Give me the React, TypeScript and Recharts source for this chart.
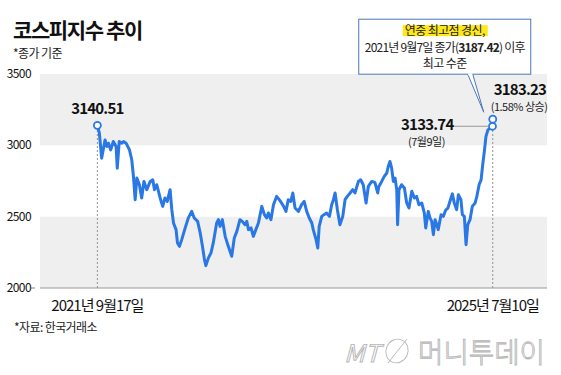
import React from "react";
import {
  LineChart,
  Line,
  XAxis,
  YAxis,
  ReferenceArea,
  ReferenceLine,
  ReferenceDot
} from "recharts";

// days since 2021-09-17
const days = [
  0, 7, 15, 27, 33, 39, 47, 56, 66, 70, 77, 86, 92, 101, 113, 121, 127, 133, 139, 148,
  156, 164, 174, 186, 195, 201, 209, 221, 230, 238, 246, 256, 262, 268, 277, 282, 289, 297, 309, 320,
  332, 341, 353, 362, 370, 377, 382, 391, 400, 408, 420, 426, 432, 440, 450, 461, 473, 482, 491, 502,
  510, 520, 526, 532, 541, 549, 558, 567, 579, 588, 596, 602, 611, 620, 631, 643, 655, 664, 672, 681,
  688, 696, 708, 719, 728, 737, 746, 755, 760, 770, 776, 781, 790, 798, 807, 817, 825, 831, 837, 845,
  854, 864, 872, 880, 890, 899, 907, 919, 927, 936, 946, 954, 966, 977, 987, 991, 1001, 1010, 1019, 1024,
  1030, 1036, 1042, 1048, 1054, 1057, 1062, 1071, 1081, 1089, 1097, 1107, 1116, 1124, 1132, 1142, 1151, 1156, 1165, 1171,
  1177, 1183, 1189, 1195, 1200, 1210, 1218, 1226, 1234, 1245, 1250, 1256, 1265, 1271, 1280, 1285, 1292, 1298, 1304, 1312,
  1320, 1330, 1336, 1344, 1351, 1356, 1363, 1368, 1375, 1383, 1391, 1392
];

const kospi = [
  3140.51, 3085, 2910, 3038, 2992, 3015, 2968, 3027, 2992, 2840, 3027, 3015, 3027, 3015, 2968, 2899, 2782, 2619, 2771, 2724,
  2631, 2747, 2689, 2747, 2759, 2689, 2724, 2631, 2572, 2631, 2607, 2689, 2549, 2456, 2409, 2316, 2292, 2339, 2420, 2490,
  2537, 2491, 2467, 2386, 2292, 2199, 2157, 2211, 2246, 2316, 2456, 2479, 2432, 2479, 2362, 2292, 2222, 2351, 2397, 2479,
  2467, 2444, 2467, 2409, 2421, 2362, 2409, 2456, 2572, 2514, 2491, 2526, 2479, 2584, 2642, 2612, 2575, 2537, 2619, 2607,
  2666, 2561, 2537, 2584, 2607, 2537, 2491, 2456, 2409, 2339, 2281, 2432, 2502, 2514, 2526, 2502, 2584, 2619, 2666, 2549,
  2444, 2502, 2619, 2642, 2666, 2689, 2666, 2747, 2759, 2724, 2596, 2712, 2747, 2740, 2666, 2712, 2747, 2782, 2806, 2852,
  2887, 2840, 2747, 2771, 2689, 2444, 2689, 2724, 2701, 2596, 2561, 2678, 2631, 2642, 2584, 2596, 2526, 2421, 2537, 2491,
  2467, 2374, 2479, 2444, 2409, 2514, 2502, 2545, 2560, 2631, 2660, 2600, 2549, 2654, 2619, 2514, 2502, 2304, 2444, 2479,
  2572, 2596, 2642, 2724, 2759, 2852, 2968, 3061, 3108, 3120, 3133.74, 3183.23
];

const yTicks = [2000, 2500, 3000, 3500];
const xTicks = [0, 1392];
const xTickLabels = ["2021년 9월17일", "2025년 7월10일"];

const data = days.map((d, i) => ({ d, v: kospi[i] }));

const BLUE = "#2a77e6";
const FONT = '"Noto Sans CJK KR", "Noto Sans", sans-serif';

const center = (vb: any) => ({ cx: vb.x + vb.width / 2, cy: vb.y + vb.height / 2 });

const startLabel = (props: any) => {
  const { cx, cy } = center(props.viewBox);
  return (
    <text x={cx} y={cy - 11} textAnchor="middle" fontSize={15} fontWeight="bold" fill="#111" letterSpacing={-0.8} fontFamily={FONT}>
      3140.51
    </text>
  );
};

const prevLabel = (props: any) => {
  const { cx, cy } = center(props.viewBox);
  return (
    <g fontFamily={FONT}>
      <line x1={cx - 38} y1={cy} x2={cx - 4} y2={cy} stroke="#999" strokeWidth={1.2} />
      <text x={cx - 39} y={cy + 4} textAnchor="end" fontSize={15} fontWeight="bold" fill="#111" letterSpacing={-0.8}>
        3133.74
      </text>
      <text x={cx - 66} y={cy + 20} textAnchor="middle" fontSize={11} fill="#222" letterSpacing={-0.5}>
        (7월9일)
      </text>
    </g>
  );
};

const lastLabel = (props: any) => {
  const { cx, cy } = center(props.viewBox);
  const bx = cx - 134;
  const by = cy - 100;
  return (
    <g fontFamily={FONT}>
      <text x={cx + 1} y={cy - 24} fontSize={15} fontWeight="bold" fill="#111" letterSpacing={-0.8}>
        3183.23
      </text>
      <text x={cx - 2} y={cy - 8} fontSize={11} fill="#222" letterSpacing={-0.5}>
        (1.58% 상승)
      </text>
      <rect x={bx} y={by} width={172} height={55} fill="#fff" stroke="#4a78b8" strokeWidth={1} />
      <path
        d={`M ${cx - 25} ${by + 55} L ${cx - 9} ${cy - 7} L ${cx - 20} ${by + 55}`}
        fill="#fff"
        stroke="#4a78b8"
        strokeWidth={1}
      />
      <rect x={cx - 24.5} y={by + 54} width={4} height={2} fill="#fff" />
      <rect x={bx + 44} y={by + 6} width={85} height={11} fill="#ffe81a" />
      <text x={bx + 86} y={by + 15.5} textAnchor="middle" fontSize={12} fill="#222" letterSpacing={-0.6}>
        연중 최고점 경신,
      </text>
      <text x={bx + 86} y={by + 33} textAnchor="middle" fontSize={12} fill="#222" letterSpacing={-0.8}>
        2021년 9월7일 종가(<tspan fontWeight="bold">3187.42</tspan>) 이후
      </text>
      <text x={bx + 86} y={by + 49} textAnchor="middle" fontSize={12} fill="#222" letterSpacing={-0.6}>
        최고 수준
      </text>
    </g>
  );
};

const YTick = (props: any) => {
  const { x, y, payload } = props;
  return (
    <g>
      {payload.value === 2000 && <line x1={x - 1} y1={y} x2={x + 3} y2={y} stroke="#999" strokeWidth={1.2} />}
      <text x={x - 1} y={y + 4} textAnchor="end" fontSize={12} fill="#111" letterSpacing={-0.6} fontFamily={FONT}>
        {payload.value}
      </text>
    </g>
  );
};

export default function App() {
  return (
    <div style={{ position: "absolute", left: 0, top: 0, width: 561, height: 375, background: "#fff" }}>
      <LineChart width={561} height={375} data={data} margin={{ top: 74, right: 14, bottom: 57, left: 0 }}>
        <ReferenceArea y1={3000} y2={3500} fill="#efefef" fillOpacity={1} stroke="none" />
        <ReferenceArea y1={2000} y2={2500} fill="#efefef" fillOpacity={1} stroke="none" />
        <XAxis
          type="number"
          dataKey="d"
          domain={[-202, 1583]}
          ticks={xTicks}
          tickFormatter={(v: number) => xTickLabels[xTicks.indexOf(v)]}
          axisLine={{ stroke: "#999", strokeWidth: 1.2 }}
          tickLine={false}
          tickMargin={6}
          height={30}
          tick={{ fontSize: 15, fill: "#111", letterSpacing: -1, fontFamily: FONT }}
        />
        <YAxis
          domain={[2000, 3500]}
          ticks={yTicks}
          width={40}
          axisLine={false}
          tickLine={false}
          tick={<YTick />}
        />
        <ReferenceLine
          segment={[{ x: 0, y: 2000 }, { x: 0, y: 3140.51 }]}
          stroke="#777"
          strokeDasharray="2 2"
          strokeWidth={0.8}
        />
        <ReferenceLine
          segment={[{ x: 1392, y: 2000 }, { x: 1392, y: 3183.23 }]}
          stroke="#777"
          strokeDasharray="2 2"
          strokeWidth={0.8}
        />
        <Line
          type="linear"
          dataKey="v"
          stroke={BLUE}
          strokeWidth={3}
          dot={false}
          strokeLinejoin="round"
          isAnimationActive={false}
        />
        <ReferenceDot x={0} y={3140.51} r={3.5} fill="#fff" stroke={BLUE} strokeWidth={1.8} label={startLabel} />
        <ReferenceDot x={1391} y={3133.74} r={3.5} fill="#fff" stroke={BLUE} strokeWidth={1.8} label={prevLabel} />
        <ReferenceDot x={1392} y={3183.23} r={3.5} fill="#fff" stroke={BLUE} strokeWidth={1.8} label={lastLabel} />
      </LineChart>
      <svg width={561} height={375} style={{ position: "absolute", left: 0, top: 0, pointerEvents: "none" }} fontFamily={FONT}>
        <text x={13} y={38} fontSize={21} fontWeight="bold" fill="#111" letterSpacing={-1.4}>
          코스피지수 추이
        </text>
        <text x={13} y={58} fontSize={12} fill="#222" letterSpacing={-0.6}>
          *종가 기준
        </text>
        <text x={14} y={332} fontSize={12} fill="#222" letterSpacing={-0.6}>
          *자료: 한국거래소
        </text>
        <g fill="#fff" stroke="#b5b5b5" strokeWidth={0.9}>
          <text x={344} y={362} fontSize={24} fontStyle="italic" textLength={36} lengthAdjust="spacingAndGlyphs">
            MT
          </text>
          <ellipse cx={397} cy={351} rx={11} ry={12} transform="rotate(25 397 351)" />
          <line x1={388} y1={363} x2={407} y2={339} />
          <text x={418} y={363} fontSize={28} fontWeight={300} textLength={127} lengthAdjust="spacingAndGlyphs">
            머니투데이
          </text>
        </g>
      </svg>
    </div>
  );
}
